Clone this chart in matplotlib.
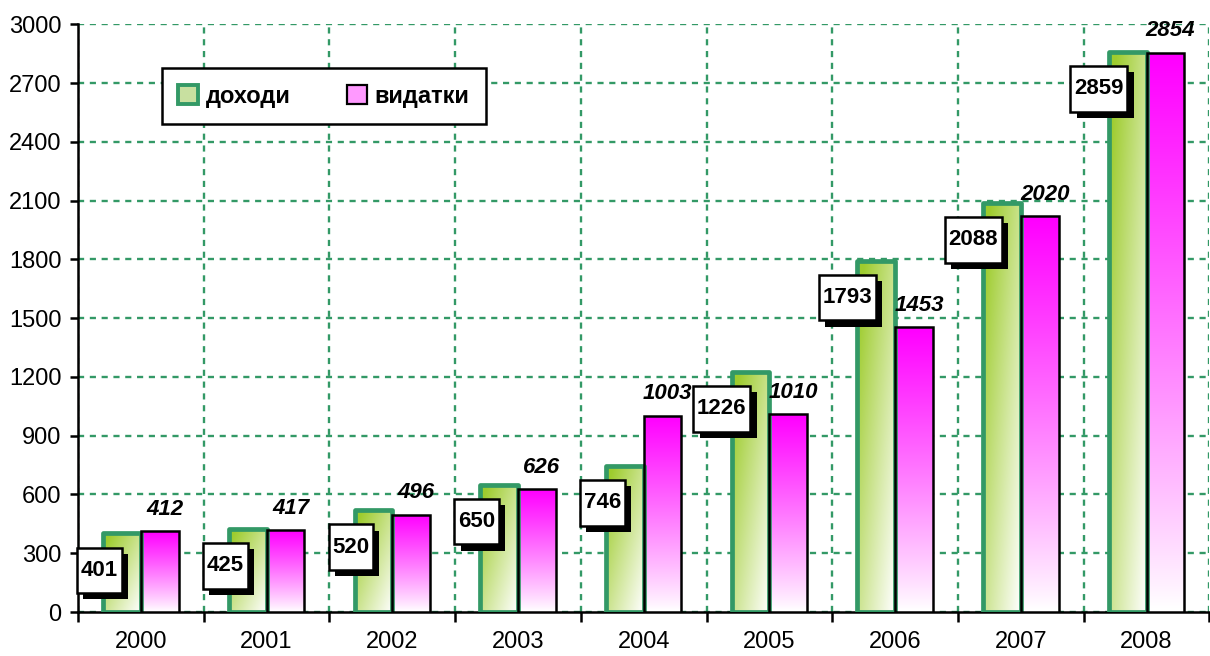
import numpy as np
import matplotlib
matplotlib.use("Agg")
import matplotlib.pyplot as plt
import matplotlib.patheffects as pe
from matplotlib.patches import Patch
from matplotlib.path import Path

years = ["2000", "2001", "2002", "2003", "2004", "2005", "2006", "2007", "2008"]
income = [401, 425, 520, 650, 746, 1226, 1793, 2088, 2859]      # доходи
expenses = [412, 417, 496, 626, 1003, 1010, 1453, 2020, 2854]   # видатки
yticks = list(range(0, 3001, 300))

plt.rcParams['font.family'] = ['Liberation Sans', 'DejaVu Sans']

GREEN = np.array([0.62, 0.80, 0.18])
MAGENTA = np.array([1.0, 0.0, 1.0])
WHITE = np.array([1.0, 1.0, 1.0])
EDGE_GREEN = "#339966"


def label_box(x0, y0, width, height, mutation_size):
    # rectangle with more padding vertically than horizontally
    px = 0.17 * mutation_size
    py = 0.55 * mutation_size
    x0, y0 = x0 - px, y0 - py
    x1, y1 = x0 + width + 2 * px, y0 + height + 2 * py
    return Path([(x0, y0), (x1, y0), (x1, y1), (x0, y1), (x0, y0)], closed=True)


fig = plt.figure(figsize=(12.1, 6.56), dpi=100)
ax = fig.add_axes([0.0645, 0.067, 0.935, 0.896])

x = np.arange(len(years))
w = 0.3
bars_inc = ax.bar(x - w / 2, income, w, facecolor="none", edgecolor=EDGE_GREEN,
                  linewidth=3.4, joinstyle="round", zorder=4)
bars_exp = ax.bar(x + w / 2, expenses, w, facecolor="none", edgecolor="black",
                  linewidth=1.8, zorder=4)

# gradient fills clipped to the bars
n = 64
xf, yf = np.meshgrid(np.linspace(0, 1, n), np.linspace(1, 0, n))
t_green = np.clip(0.55 * (1 - xf) + 0.55 * yf, 0, 1)[..., None]
img_green = WHITE * (1 - t_green) + GREEN * t_green
t_mag = (yf ** 0.9)[..., None]
img_mag = WHITE * (1 - t_mag) + MAGENTA * t_mag

for bars, img in ((bars_inc, img_green), (bars_exp, img_mag)):
    for b in bars:
        bx, bw, bh = b.get_x(), b.get_width(), b.get_height()
        im = ax.imshow(img, extent=[bx, bx + bw, 0, bh], aspect="auto",
                       zorder=3, interpolation="bilinear")
        im.set_clip_path(b)

# labels: income in white boxes with shadow, expenses italic above
shadow = [pe.SimplePatchShadow(offset=(4.5, -4.5), shadow_rgbFace="black", alpha=1),
          pe.Normal()]
for i in range(len(years)):
    t = ax.annotate(str(income[i]), (x[i] - w / 2, income[i]), xytext=(-4, -37),
                    textcoords="offset pixels", ha="right", va="center",
                    fontsize=16, fontweight="bold", color="black", zorder=6,
                    bbox=dict(boxstyle=label_box, fc="white", ec="black", lw=1.8))
    t.get_bbox_patch().set_path_effects(shadow)
    ax.annotate(str(expenses[i]), (x[i] + w / 2, expenses[i]), xytext=(5, 22),
                textcoords="offset pixels", ha="center", va="center",
                fontsize=16, fontweight="bold", fontstyle="italic", zorder=6)

ax.set_xlim(-0.5, len(years) - 0.5)
ax.set_ylim(0, 3000)
ax.set_yticks(yticks)
ax.set_xticks(x)
ax.set_xticklabels(years)
ax.set_xticks(np.arange(len(years) + 1) - 0.5, minor=True)
ax.tick_params(axis="x", which="major", length=0, pad=14, labelsize=17)
ax.tick_params(axis="x", which="minor", length=7, width=1.8, direction="out")
ax.tick_params(axis="y", length=6, width=1.8, labelsize=17, pad=6)

grid_style = dict(color=EDGE_GREEN, linestyle=(0, (2.6, 2.4)), linewidth=1.7)
ax.grid(True, axis="y", **grid_style)
ax.grid(True, axis="x", which="minor", **grid_style)
ax.set_axisbelow(True)
for s in ("top", "right"):
    ax.spines[s].set_visible(False)
for s in ("left", "bottom"):
    ax.spines[s].set_linewidth(1.8)

handles = [Patch(facecolor="#c8e0a0", edgecolor=EDGE_GREEN, linewidth=2.8, label="доходи"),
           Patch(facecolor="#ff99ff", edgecolor="black", linewidth=1.6, label="видатки")]
leg = ax.legend(handles=handles, loc="upper left", bbox_to_anchor=(0.074, 0.925),
                ncol=2, frameon=True, fancybox=False, framealpha=1,
                edgecolor="black", prop=dict(size=17, weight="bold"),
                handlelength=0.85, handleheight=0.85, handletextpad=0.3,
                columnspacing=2.4, borderpad=0.7, borderaxespad=0)
leg.get_frame().set_linewidth(1.8)

fig.savefig("out.png", dpi=100)
